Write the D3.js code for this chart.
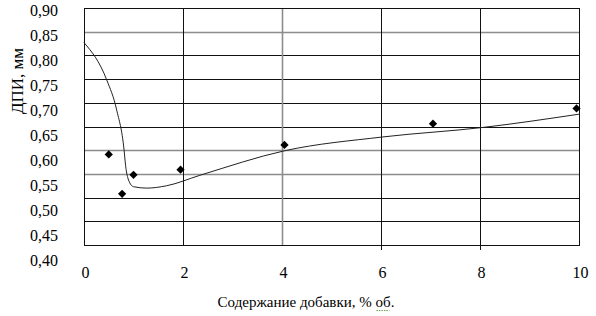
<!DOCTYPE html>
<html>
<head>
<meta charset="utf-8">
<script src="https://cdn.jsdelivr.net/npm/d3@7"></script>
<style>
  body { margin: 0; background: #fff; }
  svg text { font-family: "Liberation Serif", "Times New Roman", serif; fill: #000; }
</style>
</head>
<body>
<div id="wrapper"></div>
<script>
// measured points (additive content, % vol -> ДПИ, mm)
const pointX = [0.5, 0.77, 1.0, 1.95, 4.05, 7.05, 9.95];
const pointY = [0.591, 0.508, 0.548, 0.559, 0.611, 0.656, 0.688];

// smoothed trend line
const trendX = [0, 0.46, 0.66, 0.81, 0.84, 0.9, 1.0, 1.27, 1.67, 2.34, 4.06, 6.04, 8.06, 10];
const trendY = [0.827, 0.748, 0.685, 0.600, 0.568, 0.537, 0.523, 0.520, 0.525, 0.547, 0.599, 0.628, 0.648, 0.676];

const xTicks = [0, 2, 4, 6, 8, 10];
const yTicks = [0.40, 0.45, 0.50, 0.55, 0.60, 0.65, 0.70, 0.75, 0.80, 0.85, 0.90];
const xTitle = 'Содержание добавки, % об.';
const yTitle = 'ДПИ, мм';

const serif = '"Liberation Serif", "Times New Roman", serif';

function drawChart() {
  const dimensions = {
    width: 596,
    height: 316,
    left: 84,
    right: 579,
    top: 8,
    bottom: 245,
  };

  const svg = d3
    .select('#wrapper')
    .append('svg')
    .attr('width', dimensions.width)
    .attr('height', dimensions.height)
    .attr('font-family', serif);

  // scales
  const xScale = d3.scaleLinear().domain([0, 10]).range([dimensions.left, dimensions.right]);
  const yScale = d3.scaleLinear().domain([0.4, 0.9]).range([dimensions.bottom, dimensions.top]);
  // the tick labels in the source sit on a slightly wider spacing than the grid
  const yLabelScale = d3.scaleLinear().domain([0.4, 0.9]).range([260, 10]);

  const fmt = (d) => d3.format('.2f')(d).replace('.', ',');

  // grid
  const grayX = (v) => v === 4;
  const grayY = (v) => Math.abs(v - 0.85) < 1e-6 || Math.abs(v - 0.6) < 1e-6 || Math.abs(v - 0.55) < 1e-6;

  svg.append('g')
    .selectAll('line')
    .data(yTicks.filter((v) => v > 0.4 && v < 0.9))
    .join('line')
    .attr('x1', dimensions.left)
    .attr('x2', dimensions.right)
    .attr('y1', (d) => Math.round(yScale(d)) + 0.5)
    .attr('y2', (d) => Math.round(yScale(d)) + 0.5)
    .attr('stroke', (d) => (grayY(d) ? '#8c8c8c' : '#111'))
    .attr('stroke-width', (d) => (grayY(d) ? 1.6 : 1));

  svg.append('g')
    .selectAll('line')
    .data(xTicks.filter((v) => v > 0 && v < 10))
    .join('line')
    .attr('x1', (d) => Math.round(xScale(d)) + 0.5)
    .attr('x2', (d) => Math.round(xScale(d)) + 0.5)
    .attr('y1', dimensions.top)
    .attr('y2', dimensions.bottom)
    .attr('stroke', (d) => (grayX(d) ? '#8c8c8c' : '#111'))
    .attr('stroke-width', (d) => (grayX(d) ? 1.6 : 1));

  svg.append('rect')
    .attr('x', dimensions.left + 0.5)
    .attr('y', dimensions.top + 0.5)
    .attr('width', dimensions.right - dimensions.left)
    .attr('height', dimensions.bottom - dimensions.top)
    .attr('fill', 'none')
    .attr('stroke', '#111');

  // small tick marks under the frame (only 6 and 8 show in the source)
  svg.append('g')
    .selectAll('line')
    .data(xTicks.filter((v) => v === 6 || v === 8))
    .join('line')
    .attr('x1', (d) => Math.round(xScale(d)) + 0.5)
    .attr('x2', (d) => Math.round(xScale(d)) + 0.5)
    .attr('y1', dimensions.bottom)
    .attr('y2', dimensions.bottom + 5)
    .attr('stroke', '#111');

  // axes labels
  const xAxis = svg
    .append('g')
    .attr('transform', `translate(0,${dimensions.bottom})`)
    .call(d3.axisBottom(xScale).tickValues(xTicks).tickSize(0).tickFormat(d3.format('d')));
  xAxis.attr('font-family', serif).attr('font-size', 16);
  xAxis.select('.domain').remove();
  xAxis.selectAll('text')
    .attr('y', 33)
    .attr('dy', 0)
    .attr('dx', 1);

  const yAxis = svg
    .append('g')
    .attr('transform', 'translate(58,0)')
    .call(d3.axisLeft(yLabelScale).tickValues(yTicks).tickSize(0).tickPadding(0).tickFormat(fmt));
  yAxis.attr('font-family', serif).attr('font-size', 16);
  yAxis.select('.domain').remove();

  // trend line
  const line = d3.line()
    .x((d) => xScale(d[0]))
    .y((d) => yScale(d[1]))
    .curve(d3.curveMonotoneX);

  svg.append('path')
    .datum(d3.zip(trendX, trendY))
    .attr('d', line)
    .attr('fill', 'none')
    .attr('stroke', '#222')
    .attr('stroke-width', 1);

  // markers
  svg.append('g')
    .selectAll('path')
    .data(d3.zip(pointX, pointY))
    .join('path')
    .attr('d', d3.symbol(d3.symbolSquare, 34))
    .attr('transform', (d) => `translate(${xScale(d[0])},${yScale(d[1])}) rotate(45)`)
    .attr('fill', '#000');

  // titles
  const xt = svg.append('text')
    .attr('x', 306)
    .attr('y', 307)
    .attr('text-anchor', 'middle')
    .attr('font-size', 15)
    .text(xTitle);

  // spell-check squiggle under "об"
  const bb = xt.node().getBBox();
  svg.append('path')
    .attr('d', `M${bb.x + bb.width - 18},${bb.y + bb.height + 0.5} h13`)
    .attr('stroke', '#6aa84f')
    .attr('stroke-width', 1)
    .attr('stroke-dasharray', '1.5,1');

  svg.append('text')
    .attr('transform', 'translate(23,81) rotate(-90)')
    .attr('text-anchor', 'middle')
    .attr('font-size', 17)
    .text(yTitle);
}

drawChart();
</script>
</body>
</html>
